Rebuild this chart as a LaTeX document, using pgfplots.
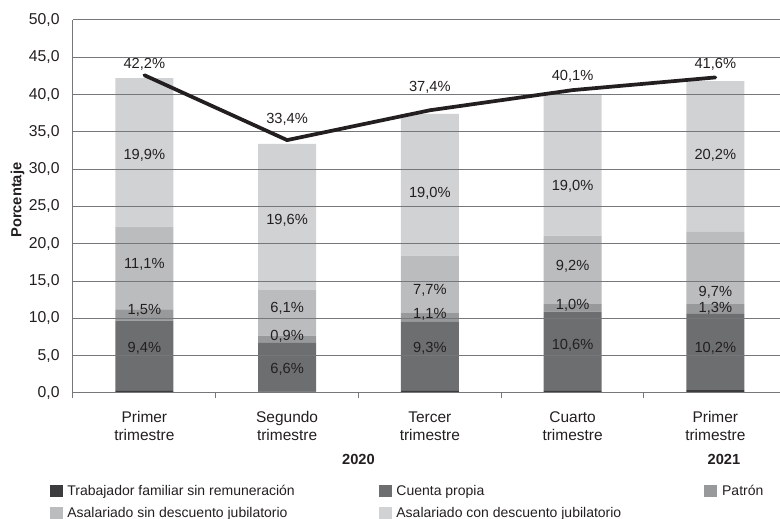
\documentclass[border=0pt]{standalone}
\usepackage{fontspec}
\setmainfont{Liberation Sans}
\usepackage{pgfplots}
\pgfplotsset{compat=1.18}
\definecolor{cA}{HTML}{3C3C3E}
\definecolor{cB}{HTML}{6D6E70}
\definecolor{cC}{HTML}{98999B}
\definecolor{cD}{HTML}{BBBCBE}
\definecolor{cE}{HTML}{D1D2D4}
\definecolor{gridc}{HTML}{76777A}
\definecolor{txt}{HTML}{231F20}
\newcommand\fs{\fontsize{11}{13.5}\selectfont}
\newcommand\fst{\fontsize{11.6}{13.7}\selectfont}
\newcommand\fsy{\fontsize{11.8}{14}\selectfont}
\newcommand\fsl{\fontsize{10.5}{12.5}\selectfont}
\newcommand\cellA[1]{\makebox[231.5pt][l]{#1}}
\newcommand\cellB[1]{\makebox[229pt][l]{#1}}
\pgfplotsset{
  common/.style={width=530.25pt, height=279.75pt, scale only axis,
    xmin=-0.5, xmax=4.453, ymin=0, ymax=50},
  sqlegend/.style={legend image code/.code={\fill[##1] (0pt,-4.5pt) rectangle (9.75pt,4.5pt); \path (11.3pt,0pt);}},
}
\begin{document}
\begin{tikzpicture}
\begin{axis}[common, ybar stacked, bar width=43.5pt, axis on top,
  axis x line*=bottom, axis y line*=left,
  axis line style={draw=gridc, line width=0.75pt},
  ytick={0,5,...,50}, ymajorgrids, major grid style={draw=gridc, line width=0.75pt},
  ytick style={draw=none},
  xtick={0,1,2,3,4},
  xticklabels={Primer\\trimestre, Segundo\\trimestre, Tercer\\trimestre, Cuarto\\trimestre, Primer\\trimestre},
  xticklabel style={align=center, font=\fst, text=txt, yshift=-6pt},
  yticklabel style={font=\fsy, text=txt, xshift=-2.25pt},
  major x tick style={draw=none},
  minor xtick={-0.5,0.5,1.5,2.5,3.5},
  minor tick length=3.75pt, tick align=outside,
  minor x tick style={draw=gridc, line width=0.75pt},
  /pgf/number format/.cd, fixed, fixed zerofill, precision=1, use comma, assume math mode=true,
  /pgfplots/.cd,
  ylabel={\bfseries Porcentaje},
  every axis y label/.style={at={(axis description cs:0,0.517)}, xshift=-41.5pt, rotate=90, anchor=center, font=\fs, text=txt},
  legend columns=3, legend cell align=left,
  legend style={draw=none, fill=none, at={(axis description cs:0,0)}, anchor=north west,
    xshift=-17.75pt, yshift=-67pt, font=\fsl, text=txt, inner sep=0pt,
    /tikz/row sep=3pt},
]
\coordinate (SW) at (rel axis cs:0,0);
\coordinate (NE) at (rel axis cs:1,1);
\addplot[fill=cA, draw=none, sqlegend] coordinates {(0,0.3) (1,0.2) (2,0.3) (3,0.3) (4,0.4)};
\addplot[fill=cB, draw=none, sqlegend] coordinates {(0,9.4) (1,6.6) (2,9.3) (3,10.6) (4,10.2)};
\addplot[fill=cC, draw=none, sqlegend] coordinates {(0,1.5) (1,0.9) (2,1.1) (3,1.0) (4,1.3)};
\addplot[fill=cD, draw=none, sqlegend] coordinates {(0,11.1) (1,6.1) (2,7.7) (3,9.2) (4,9.7)};
\addplot[fill=cE, draw=none, sqlegend] coordinates {(0,19.9) (1,19.6) (2,19.0) (3,19.0) (4,20.2)};
\legend{\cellA{Trabajador familiar sin remuneración}, \cellB{Cuenta propia}, Patrón, \cellA{Asalariado sin descuento jubilatorio}, \cellB{Asalariado con descuento jubilatorio}}
\end{axis}
\begin{axis}[common, hide axis, clip=false]
\addplot[txt, line width=2.8pt, line cap=round, line join=round, mark=none]
  coordinates {(0,42.6) (1,33.9) (2,37.9) (3,40.6) (4,42.3)};
\addplot[draw=none, mark=none, nodes near coords, point meta=explicit symbolic,
  every node near coord/.style={anchor=center, font=\fs, text=txt, inner sep=0pt}]
  coordinates {
  (0,44.1)[42,2\%] (0,31.9)[19,9\%] (0,17.2)[11,1\%] (0,11.1)[1,5\%] (0,6.0)[9,4\%]
  (1,36.7)[33,4\%] (1,23.2)[19,6\%] (1,11.3)[6,1\%] (1,7.6)[0,9\%] (1,3.2)[6,6\%]
  (2,41.0)[37,4\%] (2,26.7)[19,0\%] (2,13.7)[7,7\%] (2,10.6)[1,1\%] (2,6.0)[9,3\%]
  (3,42.4)[40,1\%] (3,27.7)[19,0\%] (3,17.0)[9,2\%] (3,11.8)[1,0\%] (3,6.4)[10,6\%]
  (4,44.1)[41,6\%] (4,31.9)[20,2\%] (4,13.5)[9,7\%] (4,11.4)[1,3\%] (4,6.0)[10,2\%]
  };
\node[font=\fs\bfseries, text=txt] at (axis cs:1.5,-8.85) {2020};
\node[font=\fs\bfseries, text=txt] at (axis cs:4.06,-8.85) {2021};
\end{axis}
\pgfresetboundingbox
\path[use as bounding box] ([shift={(-54.75pt,-94.5pt)}]SW) rectangle ([shift={(0pt,15pt)}]NE);
\end{tikzpicture}
\end{document}
